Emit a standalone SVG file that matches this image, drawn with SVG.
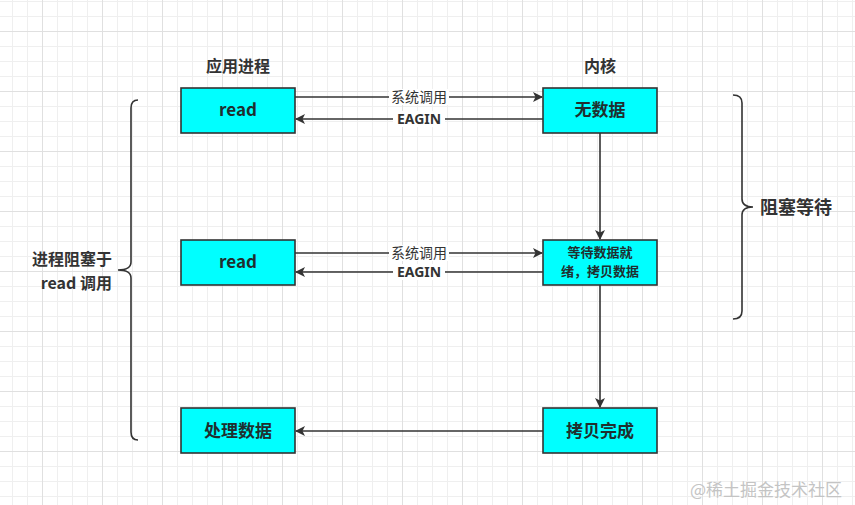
<svg xmlns="http://www.w3.org/2000/svg" width="855" height="505" viewBox="0 0 855 505">
<style>
.box{fill:#00FFFF;stroke:#333;stroke-width:1.6}
.bt{font-family:"Noto Sans CJK SC","Noto Sans",sans-serif;font-weight:bold;font-size:17px;fill:#1f2f2f;text-anchor:middle}
.st{font-family:"Noto Sans CJK SC","Noto Sans",sans-serif;font-weight:bold;font-size:13px;fill:#1f2f2f;text-anchor:middle}
.hd{font-family:"Noto Sans CJK SC","Noto Sans",sans-serif;font-weight:bold;font-size:16px;fill:#333;text-anchor:middle}
.lbl{font-family:"Noto Sans CJK SC","Noto Sans",sans-serif;font-size:14px;fill:#333;text-anchor:middle}
.lblb{font-family:"Noto Sans","Noto Sans CJK SC",sans-serif;font-weight:bold;font-size:14px;fill:#333;text-anchor:middle}
.ln{stroke:#333;stroke-width:1.6;fill:none}
.br{stroke:#333;stroke-width:1.6;fill:none}
</style>
<defs>
<pattern id="grid" patternUnits="userSpaceOnUse" x="42" y="31" width="60" height="60">
<path d="M15.5,0V60M30.5,0V60M45.5,0V60M0,15.5H60M0,30.5H60M0,45.5H60" stroke="#efefef" stroke-width="1"/>
<path d="M0.5,0V60M0,0.5H60" stroke="#e0e0e0" stroke-width="1"/>
</pattern>
<marker id="ah" viewBox="0 0 10 10" refX="9" refY="5" markerWidth="10" markerHeight="10" markerUnits="userSpaceOnUse" orient="auto">
<path d="M0,0L10,5L0,10L2.5,5Z" fill="#333"/>
</marker>
</defs>
<rect width="855" height="505" fill="#fff"/>
<rect width="855" height="505" fill="url(#grid)"/>

<g id="connectors">
<line class="ln" x1="295" y1="97" x2="542" y2="97" marker-end="url(#ah)"/>
<line class="ln" x1="543" y1="119" x2="296" y2="119" marker-end="url(#ah)"/>
<line class="ln" x1="295" y1="253" x2="542" y2="253" marker-end="url(#ah)"/>
<line class="ln" x1="543" y1="272" x2="296" y2="272" marker-end="url(#ah)"/>
<line class="ln" x1="543" y1="431" x2="296" y2="431" marker-end="url(#ah)"/>
<line class="ln" x1="600" y1="133" x2="600" y2="239" marker-end="url(#ah)"/>
<line class="ln" x1="600" y1="285" x2="600" y2="407" marker-end="url(#ah)"/>
<rect x="389" y="89" width="60" height="16" fill="#fff"/>
<text class="lbl" x="419" y="102">系统调用</text>
<rect x="393" y="111" width="52" height="16" fill="#fff"/>
<text class="lblb" x="419" y="124">EAGIN</text>
<rect x="389" y="245" width="60" height="16" fill="#fff"/>
<text class="lbl" x="419" y="258">系统调用</text>
<rect x="393" y="264" width="52" height="16" fill="#fff"/>
<text class="lblb" x="419" y="277">EAGIN</text>
</g>

<g id="h-app"><text class="hd" x="238" y="72">应用进程</text></g>
<g id="h-kernel"><text class="hd" x="600" y="72">内核</text></g>

<g id="read1"><rect class="box" x="181" y="88" width="114" height="45"/><text class="bt" x="238" y="116">read</text></g>
<g id="nodata"><rect class="box" x="543" y="88" width="114" height="45"/><text class="bt" x="600" y="116">无数据</text></g>
<g id="read2"><rect class="box" x="181" y="240" width="114" height="45"/><text class="bt" x="238" y="268">read</text></g>
<g id="ready"><rect class="box" x="543" y="240" width="114" height="45"/><text class="st" x="600" y="257">等待数据就</text><text class="st" x="600" y="276">绪，拷贝数据</text></g>
<g id="process"><rect class="box" x="181" y="408" width="114" height="45"/><text class="bt" x="238" y="437">处理数据</text></g>
<g id="copydone"><rect class="box" x="543" y="408" width="114" height="45"/><text class="bt" x="600" y="437">拷贝完成</text></g>

<g id="brace-left">
<path class="br" d="M138,100 Q131,100 131,108 L131,262 Q131,270 118,270 Q131,270 131,278 L131,432 Q131,440 138,440"/>
<text class="hd" style="text-anchor:end" x="112" y="265">进程阻塞于</text>
<text class="hd" style="text-anchor:end" x="112" y="289">read 调用</text>
</g>
<g id="brace-right">
<path class="br" d="M733,95 Q742,95 742,103 L742,199 Q742,207 753,207 Q742,207 742,215 L742,311 Q742,319 733,319"/>
<text class="hd" style="text-anchor:start;font-size:18px" x="760" y="214">阻塞等待</text>
</g>
<text x="690" y="496" style="font-family:'Noto Sans CJK SC','Noto Sans',sans-serif;font-size:17px;fill:#c4c4c4">@稀土掘金技术社区</text>
</svg>
